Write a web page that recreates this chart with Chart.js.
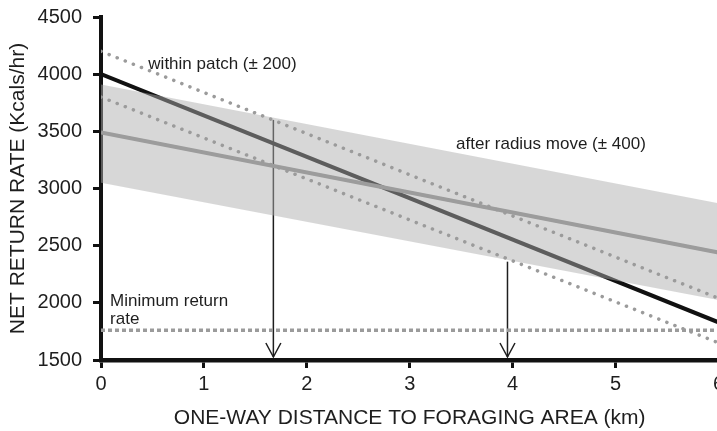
<!DOCTYPE html>
<html>
<head>
<meta charset="utf-8">
<script src="https://cdn.jsdelivr.net/npm/chart.js@4/dist/chart.umd.min.js"></script>
<style>
  html, body { margin: 0; padding: 0; background: #ffffff; overflow: hidden; }
  #wrap { width: 717px; height: 431px; overflow: hidden; position: relative; }
  canvas { display: block; }
</style>
</head>
<body>
<div id="wrap"><canvas id="c" width="728" height="431"></canvas></div>
<script>
// ---- data ----
const distanceKm        = [0, 6];            // x endpoints of the straight lines
const withinPatchMean   = [4000, 1830];
const withinPatchUpper  = [4200, 2040];      // +200
const withinPatchLower  = [3800, 1650];      // -200
const radiusMoveMean    = [3490, 2440];
const radiusMoveUpper   = [3910, 2870];      // +400 band edge
const radiusMoveLower   = [3050, 2025];      // -400 band edge
const minimumReturnRate = [1760, 1760];
const arrowDistanceKm   = [1.675, 3.95];
const arrowTopValue     = [3600, 2360];
const xTickValues       = [0, 1, 2, 3, 4, 5, 6];
const yTickValues       = [1500, 2000, 2500, 3000, 3500, 4000, 4500];

const pts = (ys) => distanceKm.map((x, i) => ({ x: x, y: ys[i] }));

const FONT = "'Liberation Sans', Arial, Helvetica, sans-serif";
const INK = '#1e1e1e';

const arrowPlugin = {
  id: 'arrows',
  beforeDatasetsDraw(chart) {
    const { ctx, scales: { x, y } } = chart;
    ctx.save();
    ctx.strokeStyle = INK;
    ctx.lineWidth = 1.5;
    ctx.lineCap = 'butt';
    ctx.lineJoin = 'miter';
    arrowDistanceKm.forEach((d, i) => {
      const px = x.getPixelForValue(d);
      const top = y.getPixelForValue(arrowTopValue[i]);
      const tip = y.getPixelForValue(yTickValues[0]) - 3;
      ctx.beginPath();
      ctx.moveTo(px, top);
      ctx.lineTo(px, tip);
      ctx.stroke();
      ctx.beginPath();
      ctx.moveTo(px - 7.5, tip - 14);
      ctx.lineTo(px, tip);
      ctx.lineTo(px + 7.5, tip - 14);
      ctx.stroke();
    });
    ctx.restore();
  }
};

const labelPlugin = {
  id: 'labels',
  afterDatasetsDraw(chart, args, opts) {
    const { ctx, scales: { x, y } } = chart;
    ctx.save();
    ctx.fillStyle = INK;
    ctx.font = '17px ' + FONT;
    ctx.textAlign = 'left';
    ctx.textBaseline = 'alphabetic';
    (opts.items || []).forEach(it => {
      ctx.fillText(it.text, x.getPixelForValue(it.x), y.getPixelForValue(it.y));
    });
    ctx.restore();
  }
};

const dotted = { borderColor: '#9b9b9b', borderWidth: 3.5, borderDash: [0.1, 8.6], borderCapStyle: 'round' };

new Chart(document.getElementById('c'), {
  type: 'line',
  data: {
    datasets: [
      { label: 'Minimum return rate', data: pts(minimumReturnRate), borderColor: '#9b9b9b', borderWidth: 3.5, borderDash: [4, 3], borderCapStyle: 'butt', order: 1 },
      Object.assign({ label: 'Within patch +200', data: pts(withinPatchUpper), order: 1 }, dotted),
      Object.assign({ label: 'Within patch -200', data: pts(withinPatchLower), order: 1 }, dotted),
      { label: 'After radius move', data: pts(radiusMoveMean), borderColor: '#9c9c9c', borderWidth: 4, order: 2 },
      { label: 'Radius move upper', data: pts(radiusMoveUpper), borderColor: 'rgba(0,0,0,0)', borderWidth: 0, fill: '+1', backgroundColor: 'rgba(173,173,173,0.49)', order: 4 },
      { label: 'Radius move lower', data: pts(radiusMoveLower), borderColor: 'rgba(0,0,0,0)', borderWidth: 0, fill: false, order: 4 },
      { label: 'Within patch', data: pts(withinPatchMean), borderColor: '#111111', borderWidth: 4, order: 6 }
    ]
  },
  options: {
    responsive: false,
    animation: false,
    events: [],
    layout: { padding: { top: 17, left: 0, right: 0, bottom: 0 } },
    elements: { point: { radius: 0 }, line: { tension: 0 } },
    plugins: {
      legend: { display: false },
      tooltip: { enabled: false },
      labels: {
        items: [
          { text: 'within patch (\u00b1 200)', x: 0.46, y: 4045 },
          { text: 'after radius move (\u00b1 400)', x: 3.45, y: 3345 },
          { text: 'Minimum return', x: 0.088, y: 1972 },
          { text: 'rate', x: 0.088, y: 1815 }
        ]
      }
    },
    scales: {
      x: {
        type: 'linear',
        min: 0, max: 6,
        afterBuildTicks: (s) => { s.ticks = xTickValues.map(v => ({ value: v })); },
        afterFit: (s) => { s.height = 71; },
        border: { display: true, width: 4.5, color: '#111' },
        grid: { drawOnChartArea: false, drawTicks: true, tickLength: 8, tickWidth: 3, tickColor: '#111' },
        ticks: { color: INK, font: { family: FONT, size: 20 }, padding: 4, maxRotation: 0, callback: (v) => String(v) },
        title: { display: true, text: 'ONE-WAY DISTANCE TO FORAGING AREA (km)', color: INK, font: { family: FONT, size: 21 }, padding: { top: 0, bottom: 0 } }
      },
      y: {
        type: 'linear',
        min: 1500, max: 4500,
        afterBuildTicks: (s) => { s.ticks = yTickValues.map(v => ({ value: v })); },
        afterFit: (s) => { s.width = 101; s.paddingTop = 0; },
        border: { display: true, width: 4, color: '#111' },
        grid: { drawOnChartArea: false, drawTicks: true, tickLength: 8, tickWidth: 3, tickColor: '#111' },
        ticks: { color: INK, font: { family: FONT, size: 20 }, padding: 11, callback: (v) => String(v) },
        title: { display: true, text: 'NET RETURN RATE (Kcals/hr)', color: INK, font: { family: FONT, size: 21 }, padding: { top: 6, bottom: 0 } }
      }
    }
  },
  plugins: [arrowPlugin, labelPlugin]
});
</script>
</body>
</html>
